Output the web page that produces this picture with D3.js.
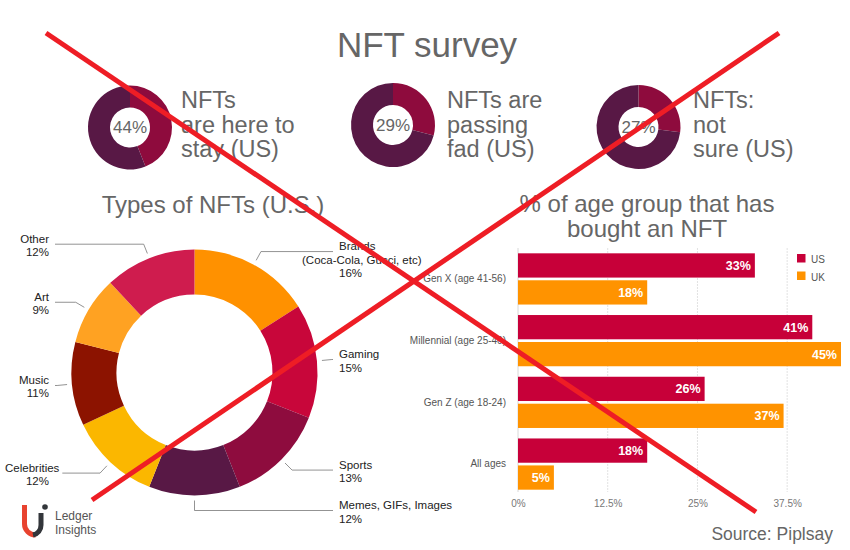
<!DOCTYPE html>
<html><head><meta charset="utf-8">
<script src="https://cdn.jsdelivr.net/npm/d3@7"></script>
<style>body{margin:0;background:#fff;} svg{display:block;font-family:"Liberation Sans",Arial,Helvetica,sans-serif;}</style>
</head><body><svg id="c" width="850" height="550"></svg>
<script>
// ---------- DATA ----------
const sentimentValues = [44, 29, 27];
const sentimentLabels = [["NFTs", "are here to", "stay (US)"], ["NFTs are", "passing", "fad (US)"], ["NFTs:", "not", "sure (US)"]];
const typeNames = [["Brands", "(Coca-Cola, Gucci, etc)"], ["Gaming"], ["Sports"], ["Memes, GIFs, Images"], ["Celebrities"], ["Music"], ["Art"], ["Other"]];
const typeValues = [16, 15, 13, 12, 12, 11, 9, 12];
const ageGroups = ["Gen X (age 41-56)", "Millennial (age 25-40)", "Gen Z (age 18-24)", "All ages"];
const seriesNames = ["US", "UK"];
const usValues = [33, 41, 26, 18];
const ukValues = [18, 45, 37, 5];
const xTicks = [0, 12.5, 25, 37.5];

// ---------- STYLE / LAYOUT ----------
const typeColors = ["#ff9100", "#c8063a", "#8e0c3e", "#581845", "#fbb700", "#8c1300", "#ffa222", "#cf1c4e"];
const seriesColors = ["#c70039", "#ff9300"];
const sentColors = ["#8e0b3d", "#581845"];
const svg = d3.select("#c");

// Title
svg.append("text").attr("x", 427).attr("y", 57).attr("text-anchor", "middle")
  .attr("font-size", 35).attr("fill", "#666").text("NFT survey");

// Small donuts
const smallCx = [130, 393, 638.5], smallCy = [127.5, 125, 127], smallLabelX = [181, 447, 693];
const smallArc = d3.arc().innerRadius(20).outerRadius(42);
sentimentValues.forEach((v, i) => {
  const g = svg.append("g").attr("transform", `translate(${smallCx[i]},${smallCy[i]})`);
  g.selectAll("path").data(d3.pie().sort(null)([v, 100 - v])).join("path")
    .attr("d", smallArc).attr("fill", (d, j) => sentColors[j]);
  g.append("text").attr("text-anchor", "middle").attr("dy", "0.35em")
    .attr("font-size", 17).attr("fill", "#666").text(v + "%");
  const t = svg.append("text").attr("font-size", 23.5).attr("fill", "#666");
  sentimentLabels[i].forEach((line, k) => {
    t.append("tspan").attr("x", smallLabelX[i]).attr("y", 108 + k * 24.5).text(line);
  });
});

// Section titles
svg.append("text").attr("x", 213).attr("y", 213).attr("text-anchor", "middle")
  .attr("font-size", 24).attr("fill", "#666").text("Types of NFTs (U.S.)");
const bt = svg.append("text").attr("text-anchor", "middle").attr("font-size", 24).attr("fill", "#666");
bt.append("tspan").attr("x", 647).attr("y", 212).text("% of age group that has");
bt.append("tspan").attr("x", 647).attr("y", 237).text("bought an NFT");

// Big donut
const cx = 194.5, cy = 372.5;
const bigArc = d3.arc().innerRadius(78).outerRadius(123);
const arcs = d3.pie().sort(null)(typeValues);
const dg = svg.append("g").attr("transform", `translate(${cx},${cy})`);
dg.selectAll("path").data(arcs).join("path").attr("d", bigArc).attr("fill", (d, i) => typeColors[i]);

const lineShift = {"(Coca-Cola, Gucci, etc)": -37};
arcs.forEach((a, i) => {
  const mid = (a.startAngle + a.endAngle) / 2;
  const right = mid <= Math.PI + 1e-6;
  const p1 = [cx + 128 * Math.sin(mid), cy - 128 * Math.cos(mid)];
  const p2 = [cx + 138 * Math.sin(mid), cy - 138 * Math.cos(mid)];
  const lines = typeNames[i].concat([typeValues[i] + "%"]);
  const t = svg.append("text").attr("font-size", 11.5).attr("fill", "#222")
    .attr("text-anchor", right ? "start" : "end");
  let maxRight = 0;
  lines.forEach((line, k) => {
    const s = t.append("tspan").attr("y", p2[1] - 1.5 + k * 13.5).text(line);
    let xx;
    if (right) { xx = 339 + (lineShift[line] || 0); }
    else {
      const w = s.node().getComputedTextLength();
      xx = Math.max(49, 5 + w);
      if (k === 0) maxRight = xx;
    }
    s.attr("x", xx);
  });
  const endX = right ? 333 : Math.max(55, maxRight + 3);
  svg.append("path").attr("fill", "none").attr("stroke", "#777").attr("stroke-width", 0.8)
    .attr("d", d3.line()([p1, p2, [endX, p2[1]]]));
});

// Bar chart
const x = d3.scaleLinear().domain([0, 45]).range([518, 841]);
const y0 = d3.scaleBand().domain(ageGroups).range([249, 494]).paddingInner(0.17).paddingOuter(0.07);
const y1 = d3.scaleBand().domain(seriesNames).range([0, y0.bandwidth()]).paddingInner(0.1);
const grid = svg.append("g");
xTicks.forEach(t => {
  grid.append("line").attr("x1", x(t)).attr("x2", x(t)).attr("y1", 248).attr("y2", 492)
    .attr("stroke", t === 0 ? "#d8d8d8" : "#e2e2e2").attr("stroke-width", 1)
    .attr("stroke-dasharray", t === 0 ? null : "2,1");
});
const xAxis = d3.axisBottom(x).tickValues(xTicks).tickFormat(d => d + "%").tickSize(0).tickPadding(0);
const ax = svg.append("g").attr("transform", "translate(0,500)").call(xAxis);
ax.select(".domain").remove();
ax.selectAll("text").attr("font-size", 10).attr("fill", "#777").attr("font-family", "Liberation Sans, Arial, sans-serif");

const yAxis = d3.axisLeft(y0).tickSize(0).tickPadding(0);
const ay = svg.append("g").attr("transform", "translate(506,0)").call(yAxis);
ay.select(".domain").remove();
ay.selectAll("text").attr("font-size", 10).attr("fill", "#555").attr("font-family", "Liberation Sans, Arial, sans-serif");

const seriesVals = [usValues, ukValues];
ageGroups.forEach((grp, gi) => {
  seriesNames.forEach((s, si) => {
    const v = seriesVals[si][gi];
    const yy = y0(grp) + y1(s);
    svg.append("rect").attr("x", x(0)).attr("y", yy).attr("width", x(v) - x(0))
      .attr("height", y1.bandwidth()).attr("fill", seriesColors[si]);
    svg.append("text").attr("x", x(v) - 4).attr("y", yy + y1.bandwidth() / 2).attr("dy", "0.36em")
      .attr("text-anchor", "end").attr("font-size", 12.5).attr("font-weight", "bold")
      .attr("fill", "#fff").text(v + "%");
  });
});

// Legend
seriesNames.forEach((s, i) => {
  svg.append("rect").attr("x", 797).attr("y", 254 + i * 17.5).attr("width", 8.5).attr("height", 8.5).attr("fill", seriesColors[i]);
  svg.append("text").attr("x", 811).attr("y", 263 + i * 17.5).attr("font-size", 10).attr("fill", "#555").text(s);
});

// Source
svg.append("text").attr("x", 833).attr("y", 540).attr("text-anchor", "end")
  .attr("font-size", 17.5).attr("fill", "#666").text("Source: Piplsay");

// Logo
svg.append("path").attr("d", "M24.5,505 V524 A11,11 0 0 0 35.5,535").attr("fill", "none")
  .attr("stroke", "#e8432f").attr("stroke-width", 5);
svg.append("path").attr("d", "M41,513 V525 A10,10 0 0 1 33,535").attr("fill", "none")
  .attr("stroke", "#33363b").attr("stroke-width", 5);
svg.append("circle").attr("cx", 45).attr("cy", 507).attr("r", 2.8).attr("fill", "#33363b");
svg.append("text").attr("x", 55).attr("y", 520).attr("font-size", 12).attr("fill", "#555").text("Ledger");
svg.append("text").attr("x", 55).attr("y", 534).attr("font-size", 12).attr("fill", "#555").text("Insights");

// Red cross overlay
const crossLines = [[[46, 33], [756, 512]], [[779, 33], [92, 500]]];
crossLines.forEach(l => {
  svg.append("path").attr("d", d3.line()(l)).attr("stroke", "#ee1d25").attr("stroke-width", 5).attr("fill", "none");
});
</script>
</body></html>
